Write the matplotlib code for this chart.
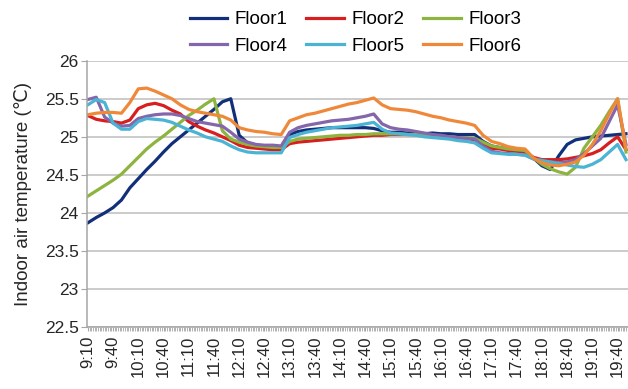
import numpy as np
import matplotlib.pyplot as plt

plt.rcParams['font.family'] = ['Liberation Sans', 'DejaVu Sans']

# minutes after 9:10, one reading every 10 min (9:10 .. 19:50)
minutes = np.arange(0, 650, 10)

floor1 = [23.87, 23.94, 24.00, 24.07, 24.17, 24.33, 24.45, 24.57, 24.68, 24.80,
          24.91, 25.00, 25.09, 25.18, 25.27, 25.36, 25.46, 25.50, 25.02, 24.92,
          24.89, 24.88, 24.87, 24.87, 25.03, 25.07, 25.09, 25.10, 25.11, 25.12,
          25.12, 25.12, 25.12, 25.12, 25.11, 25.08, 25.06, 25.06, 25.05, 25.05,
          25.04, 25.05, 25.04, 25.04, 25.03, 25.03, 25.03, 24.94, 24.88, 24.86,
          24.84, 24.82, 24.80, 24.72, 24.62, 24.57, 24.75, 24.90, 24.96, 24.98,
          25.00, 25.01, 25.02, 25.03, 25.04]
floor2 = [25.28, 25.23, 25.21, 25.20, 25.18, 25.22, 25.37, 25.42, 25.44, 25.41,
          25.35, 25.30, 25.20, 25.14, 25.09, 25.05, 25.00, 24.95, 24.89, 24.86,
          24.85, 24.84, 24.83, 24.83, 24.91, 24.93, 24.94, 24.95, 24.96, 24.97,
          24.98, 24.99, 25.00, 25.01, 25.02, 25.02, 25.03, 25.03, 25.03, 25.03,
          25.03, 25.02, 25.01, 25.00, 24.99, 24.98, 24.96, 24.90, 24.85, 24.84,
          24.82, 24.81, 24.80, 24.73, 24.70, 24.70, 24.70, 24.71, 24.73, 24.75,
          24.78, 24.83, 24.92, 25.00, 24.83]
floor3 = [24.22, 24.29, 24.36, 24.43, 24.51, 24.62, 24.73, 24.84, 24.93, 25.01,
          25.10, 25.19, 25.28, 25.35, 25.43, 25.50, 25.08, 24.97, 24.93, 24.90,
          24.88, 24.87, 24.86, 24.86, 24.94, 24.97, 24.98, 24.99, 25.00, 25.01,
          25.02, 25.02, 25.03, 25.03, 25.04, 25.04, 25.04, 25.04, 25.03, 25.03,
          25.02, 25.02, 25.01, 25.00, 24.99, 24.99, 24.98, 24.93, 24.88, 24.86,
          24.84, 24.83, 24.82, 24.72, 24.64, 24.58, 24.54, 24.51, 24.60, 24.85,
          25.00, 25.15, 25.33, 25.50, 24.80]
floor4 = [25.49, 25.52, 25.26, 25.18, 25.14, 25.15, 25.24, 25.27, 25.29, 25.30,
          25.30, 25.28, 25.24, 25.20, 25.18, 25.16, 25.14, 25.06, 24.97, 24.93,
          24.90, 24.89, 24.89, 24.88, 25.06, 25.12, 25.15, 25.17, 25.19, 25.21,
          25.22, 25.23, 25.25, 25.27, 25.30, 25.17, 25.12, 25.10, 25.09, 25.07,
          25.05, 25.03, 25.02, 25.00, 24.99, 24.98, 24.97, 24.88, 24.81, 24.79,
          24.78, 24.77, 24.76, 24.71, 24.68, 24.67, 24.66, 24.67, 24.70, 24.78,
          24.88, 24.98, 25.20, 25.42, 24.90]
floor5 = [25.42, 25.49, 25.45, 25.18, 25.10, 25.10, 25.20, 25.24, 25.23, 25.22,
          25.19, 25.14, 25.09, 25.05, 25.00, 24.97, 24.94, 24.88, 24.83, 24.80,
          24.79, 24.79, 24.79, 24.79, 24.99, 25.03, 25.06, 25.08, 25.10, 25.12,
          25.13, 25.14, 25.15, 25.17, 25.19, 25.10, 25.05, 25.04, 25.03, 25.02,
          25.00, 24.99, 24.98, 24.97, 24.95, 24.94, 24.92, 24.85, 24.79, 24.78,
          24.77, 24.77, 24.76, 24.71, 24.69, 24.67, 24.65, 24.63, 24.61, 24.60,
          24.64, 24.70, 24.80, 24.90, 24.70]
floor6 = [25.29, 25.31, 25.32, 25.32, 25.31, 25.45, 25.63, 25.64, 25.60, 25.55,
          25.50, 25.42, 25.36, 25.33, 25.31, 25.29, 25.27, 25.22, 25.12, 25.09,
          25.07, 25.06, 25.04, 25.03, 25.21, 25.25, 25.29, 25.31, 25.34, 25.37,
          25.40, 25.43, 25.45, 25.48, 25.51, 25.42, 25.37, 25.36, 25.35, 25.33,
          25.30, 25.27, 25.25, 25.22, 25.20, 25.18, 25.15, 25.02, 24.94, 24.91,
          24.87, 24.85, 24.84, 24.72, 24.66, 24.63, 24.62, 24.64, 24.67, 24.76,
          24.90, 25.08, 25.30, 25.50, 24.85]

series = [floor1, floor2, floor3, floor4, floor5, floor6]
names = ['Floor1', 'Floor2', 'Floor3', 'Floor4', 'Floor5', 'Floor6']
colors = ['#12307a', '#d71f1f', '#8cb43e', '#8466ab', '#4bb3d3', '#f0883a']

tick_minutes = np.arange(0, 640, 30)
tick_labels = ['9:10', '9:40', '10:10', '10:40', '11:10', '11:40', '12:10', '12:40',
               '13:10', '13:40', '14:10', '14:40', '15:10', '15:40', '16:10', '16:40',
               '17:10', '17:40', '18:10', '18:40', '19:10', '19:40']

fig = plt.figure(figsize=(6.28, 3.89), dpi=100)
ax = fig.add_axes([0.1385, 0.159, 0.861, 0.685])

lines = []
for vals, name, col in zip(series, names, colors):
    ln, = ax.plot(minutes, vals, color=col, lw=2.3, label=name, solid_joinstyle='round')
    lines.append(ln)

ax.set_xlim(-1, 642)
ax.set_ylim(22.5, 26)
ax.set_yticks(np.arange(22.5, 26.01, 0.5))
ax.set_yticklabels(['22.5', '23', '23.5', '24', '24.5', '25', '25.5', '26'])
ax.set_xticks(tick_minutes)
ax.set_xticklabels(tick_labels, rotation=90)
ax.set_xticks(np.arange(0, 642, 2), minor=True)

ax.grid(True, axis='y', color='#bdbdbd', lw=1.1)
ax.set_axisbelow(True)
for s in ['top', 'right']:
    ax.spines[s].set_visible(False)
for s in ['left', 'bottom']:
    ax.spines[s].set_color('#a6a6a6')
    ax.spines[s].set_linewidth(1.1)
ax.tick_params(axis='y', length=4, color='#a6a6a6', labelsize=12.5,
               labelcolor='#262626', pad=2)
ax.tick_params(axis='x', which='both', length=3, color='#a6a6a6', labelsize=12,
               labelcolor='#262626', pad=3)

ax.set_ylabel('Indoor air temperature (\u2103)', fontsize=13.5, color='#262626', labelpad=9)

# legend filled column by column, so order handles to read row-wise
order = [0, 3, 1, 4, 2, 5]
fig.legend([lines[i] for i in order], [names[i] for i in order],
           loc='upper center', bbox_to_anchor=(0.566, 1.015), ncol=3, frameon=False,
           fontsize=13.5, handlelength=2.0, columnspacing=1.0, labelspacing=0.5,
           handletextpad=0.4)

plt.savefig('out.png', dpi=100)
